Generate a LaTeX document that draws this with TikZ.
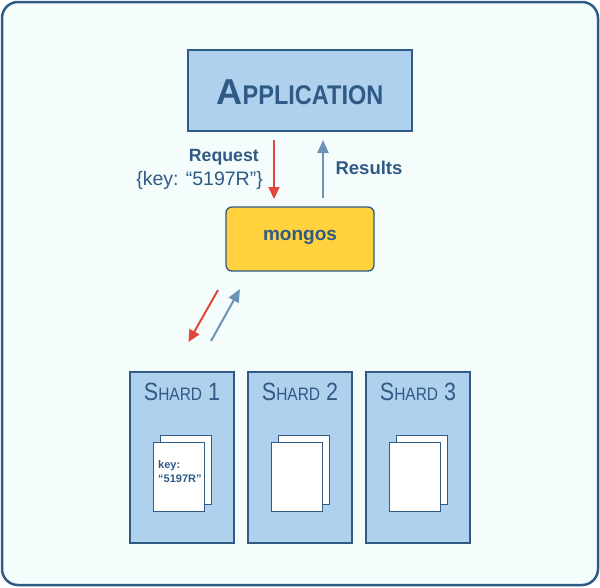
\documentclass[tikz,border=0pt]{standalone}
\usepackage{fontspec}
\usepackage{graphicx}
\setmainfont{Liberation Sans}
\usetikzlibrary{arrows.meta}
\definecolor{txt}{HTML}{2F5A85}
\definecolor{edge}{HTML}{2E5C85}
\definecolor{boxfill}{HTML}{AFD1EE}
\definecolor{bgfill}{HTML}{F5FCFC}
\definecolor{mongofill}{HTML}{FFD23E}
\definecolor{redarr}{HTML}{E0473A}
\definecolor{bluearr}{HTML}{6B93B6}
\tikzset{
  bluebox/.style={draw=edge, line width=1.3pt, fill=boxfill, inner sep=0pt},
  pagebox/.style={draw=edge, line width=0.8pt, fill=white, minimum width=51pt, minimum height=69pt, inner sep=0pt},
  lbl/.style={text=txt, inner sep=0pt},
  reqarrow/.style={draw=redarr, line width=2pt, -{Triangle[length=12pt,width=11pt]}},
  resarrow/.style={draw=bluearr, line width=2pt, -{Triangle[length=13pt,width=11pt]}},
}
\newcommand{\shardname}[1]{{\fontsize{25}{25}\selectfont S}{\fontsize{18}{18}\selectfont HARD}{\fontsize{25}{25}\selectfont\ #1}}
\begin{document}
\begin{tikzpicture}[x=1pt,y=-1pt]
\useasboundingbox (0,0) rectangle (600,587);
\draw[draw=edge, line width=2.5pt, fill=bgfill, rounded corners=16pt] (2,2) rectangle (598,585);

% Application
\node[bluebox, minimum width=224pt, minimum height=81pt] (app) at (300,90.5) {};
\node[lbl, font=\bfseries] (apptxt) at (300,92) {\fontsize{36}{36}\selectfont A\fontsize{27}{27}\selectfont\scalebox{0.87}[1]{PPLICATION}};

% mongos
\node[draw=edge, line width=1.3pt, fill=mongofill, rounded corners=6pt, minimum width=148pt, minimum height=64pt, inner sep=0pt] (mongos) at (300,239) {};
\node[lbl, font=\bfseries\fontsize{19}{19}\selectfont] (mtxt) at (300,237) {mongos};

% request / results labels
\node[lbl, anchor=east, font=\bfseries\fontsize{17.7}{17.7}\selectfont] (req) at (259,157) {Request};
\node[lbl, anchor=east, font=\fontsize{19.5}{19.5}\selectfont] (reqkey) at (263,180) {\{key: “5197R”\}};
\node[lbl, font=\bfseries\fontsize{18.5}{18.5}\selectfont] (res) at (369,168) {Results};

% arrows app <-> mongos
\coordinate (r1) at (274,140);
\coordinate (r2) at (274,199);
\coordinate (b1) at (323,198);
\coordinate (b2) at (323,140);
\draw[reqarrow] (r1) -- (r2);
\draw[resarrow] (b1) -- (b2);

% arrows mongos <-> shard
\coordinate (dr1) at (218,290);
\coordinate (dr2) at (188.5,342);
\coordinate (db1) at (211,341);
\coordinate (db2) at (240,289);
\draw[reqarrow] (dr1) -- (dr2);
\draw[resarrow] (db1) -- (db2);

% shards
\foreach \i/\x in {1/130,2/248,3/366}{
  \node[bluebox, minimum width=104pt, minimum height=171pt] (shard\i) at (\x+52,457.5) {};
  \node[lbl] (st\i) at (\x+52,392) {\scalebox{0.86}[1]{\shardname{\i}}};
  \node[pagebox] (pb\i) at (\x+55.5,469.5) {};
  \node[pagebox] (pf\i) at (\x+48.5,476.5) {};
}
\node[lbl, anchor=north west, align=left, font=\bfseries\fontsize{11}{14}\selectfont] (key) at (158,460) {key:\\“5197R”};
\end{tikzpicture}
\end{document}
